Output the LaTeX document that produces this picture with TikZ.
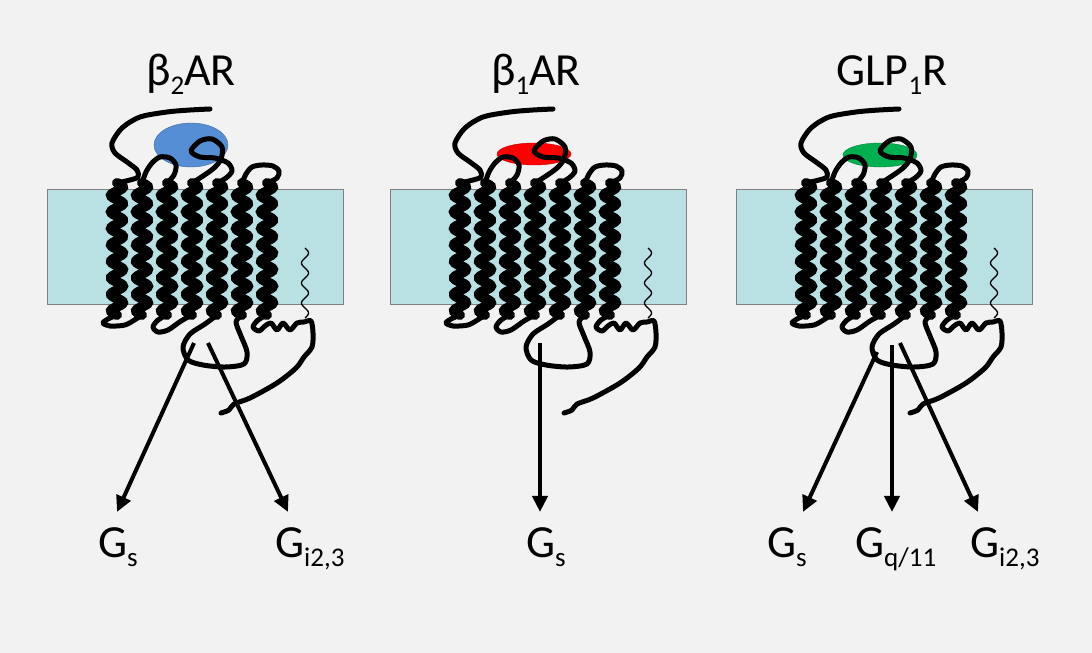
\documentclass[tikz,border=0pt]{standalone}
\usepackage{fontspec}
\setmainfont{Carlito}
\usetikzlibrary{arrows.meta}
\definecolor{slide}{HTML}{F2F2F2}
\definecolor{membrane}{HTML}{B9E0E3}
\definecolor{ligblue}{HTML}{558ED5}
\definecolor{ligred}{HTML}{FF0000}
\definecolor{liggreen}{HTML}{00B050}
\newcommand{\lowsub}[1]{\raisebox{-0.21em}{\fontsize{27}{30}\selectfont #1}}

\begin{document}
\begin{tikzpicture}[x=1pt,y=-1pt,
  protein/.style={line width=5pt,line cap=round,line join=round},
  helix/.style={line width=10pt,line cap=round},
  palm/.style={line width=1.3pt},
  garrow/.style={line width=4pt,-{Triangle[length=16pt,width=15pt]}},
  title/.style={font=\fontsize{46}{50}\selectfont,inner sep=0pt,anchor=base},
  glabel/.style={font=\fontsize{46}{50}\selectfont,inner xsep=0pt,inner ysep=15pt,anchor=base west}]
  \fill[slide] (0,0) rectangle (1092,653);
  \useasboundingbox (0,0) rectangle (1092,653);
  % the three receptors
  \foreach \dx/\lig/\ly/\ry in {0/ligblue/145/22, 343/ligred/154/11, 689/liggreen/155/12}{
    \begin{scope}[xshift=\dx pt]
      \filldraw[fill=membrane,draw=gray] (47,189) rectangle (343,304);
      \filldraw[fill=\lig,draw=\lig!75!black,thin] (191,\ly) ellipse (37 and \ry);
      \foreach \h in {0,...,6}
        \draw[helix] plot[domain=0:8,samples=120,variable=\t]
          ({117+25*\h+6*sin(\t*360)},{183+16.5*\t});
      \draw[palm] plot[domain=0:3.5,samples=70,variable=\t]
        ({305+3.5*sin(\t*360)},{248+20*\t});
      % extracellular side
      \draw[protein] plot[smooth] coordinates {(210,109) (190,110) (167,112) (140,117) (122,128)
        (112,143) (115,153) (127,162) (137,170) (138,177) (130,180) (117,183)};
      \draw[protein] plot[smooth] coordinates {(142,183) (146,172) (152,163) (160,157) (170,158)
        (176,165) (174,175) (167,183)};
      \draw[protein] plot[smooth] coordinates {(192,183) (203,176) (214,168) (221,159) (222,147)
        (212,139) (200,141) (191,151) (200,157) (215,158) (228,163) (232,171) (226,178) (217,183)};
      \draw[protein] plot[smooth] coordinates {(242,183) (246,174) (252,167) (262,165) (273,166)
        (279,171) (277,178) (267,183)};
      % intracellular side
      \draw[protein] plot[smooth] coordinates {(117,315) (108,319) (103,323) (110,326) (125,325)
        (136,319) (142,315)};
      \draw[protein] plot[smooth] coordinates {(167,315) (158,320) (153,327) (158,332) (168,330)
        (181,321) (192,315)};
      \draw[protein] plot[smooth] coordinates {(217,315) (205,324) (190,334) (183,347) (188,360)
        (203,365) (225,367) (244,364) (247,352) (241,336) (236,322) (242,315)};
      \draw[protein] plot[smooth] coordinates {(267,315) (258,320) (253,327) (259,331) (265,326)
        (271,323) (277,330) (283,323) (290,330) (297,323) (304,322) (311,321) (313,333) (312,347)
        (304,357) (296,368) (277,383) (250,398) (234,404) (229,410) (221,413)};
    \end{scope}
  }
  % names
  \node[title] (b2ar) at (191,85) {β\lowsub{2}AR};
  \node[title] (b1ar) at (536,85) {β\lowsub{1}AR};
  \node[title] (glp1r) at (892,85) {GLP\lowsub{1}R};
  % G proteins
  \node[glabel] (gs1) at (98,557) {G\lowsub{s}};
  \node[glabel] (gi1) at (275,557) {G\lowsub{i2,3}};
  \node[glabel] (gs2) at (526,557) {G\lowsub{s}};
  \node[glabel] (gs3) at (767,557) {G\lowsub{s}};
  \node[glabel] (gq3) at (855,557) {G\lowsub{q/11}};
  \node[glabel] (gi3) at (970,557) {G\lowsub{i2,3}};
  \coordinate (s1a) at (194,343);
  \coordinate (s1b) at (208,343);
  \coordinate (s2a) at (540,343);
  \coordinate (s3a) at (877,352);
  \coordinate (s3b) at (892,345);
  \coordinate (s3c) at (900,343);
  \draw[garrow] (s1a) -- ([xshift=19pt]gs1.north west);
  \draw[garrow] (s1b) -- ([xshift=13pt]gi1.north west);
  \draw[garrow] (s2a) -- ([xshift=14pt]gs2.north west);
  \draw[garrow] (s3a) -- ([xshift=36pt]gs3.north west);
  \draw[garrow] (s3b) -- ([xshift=37pt]gq3.north west);
  \draw[garrow] (s3c) -- ([xshift=8pt]gi3.north west);
\end{tikzpicture}
\end{document}
